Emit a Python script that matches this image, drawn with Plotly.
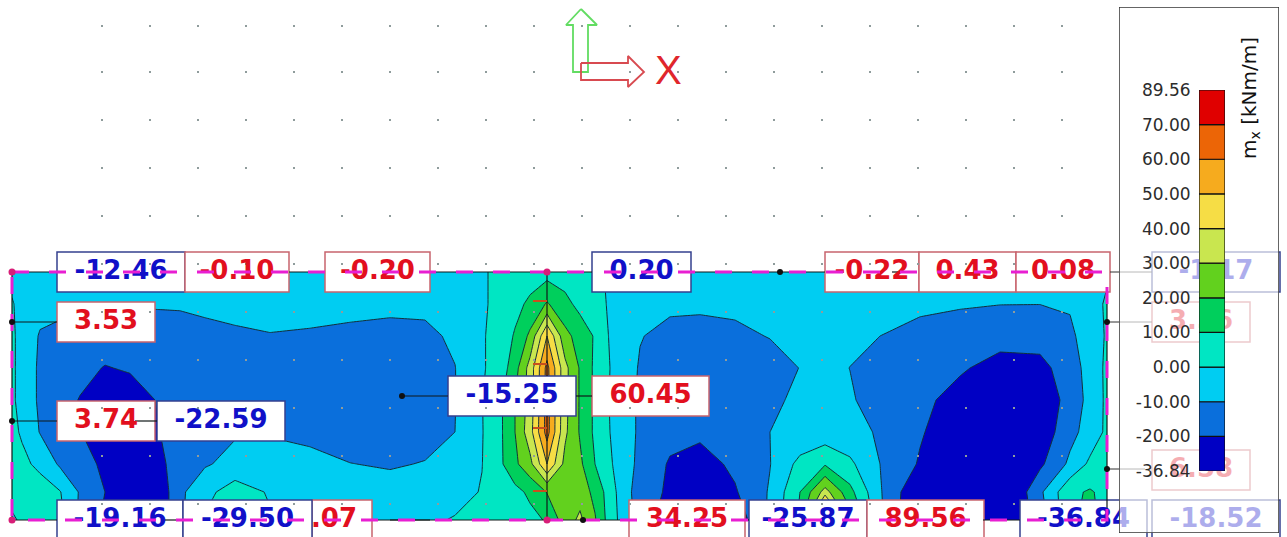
import plotly.graph_objects as go

# ---------- contour data (plate coordinates, moment values in kNm/m) ----------
grid_x = [12, 22, 40, 60, 80, 105, 130, 155, 180, 205, 235, 270, 310, 350, 390, 425, 455, 482, 500, 515, 530, 547,
          565, 580, 595, 610, 625, 640, 670, 700, 735, 770, 800, 825, 850, 880, 920, 960, 1000, 1040, 1070, 1090, 1107]
grid_y = [272, 304, 336, 368, 400, 432, 464, 492, 520]
row_272 = [-2, -5, -6, -6, -6, -6, -6, -6, -6, -6, -6, -6, -6, -6, -6, -6, -5, -1, 2, 4, 5, 6,
           5, 4, 1.5, -1, -3, -5, -6, -6, -6, -6, -6, -6, -6, -6, -6, -6, -6, -6, -6, -4, -1]
row_304 = [0.5, -2, -6, -8, -9, -9, -9, -9.2, -9.2, -8.5, -8, -7.5, -7.5, -8, -8.5, -8, -6.5, -1, 2, 7, 12, 21,
           13, 7, 3, -1, -4, -7, -8, -8, -8, -7.5, -7, -7, -7, -7, -8, -9, -9.8, -9.9, -9, -3, 1]
row_336 = [1, -2, -11, -12, -14, -15, -15, -14, -13, -12, -11, -10.3, -10.8, -11.5, -12, -12, -8.5, -1, 4, 11, 22, 50,
           23, 16, 9, -1, -5, -9.5, -13, -14, -12, -9.6, -8, -7, -8, -10, -13, -15, -17, -16, -12, -5, 1]
row_368 = [1, -2, -12, -15, -17, -20.5, -19, -16, -15, -14, -13, -12, -12, -13, -14, -13, -10.2, -1, 4, 16, 34, 63,
           33, 19, 8, 0, -5, -11, -16, -17, -16, -14, -9.8, -7.5, -10.1, -14, -17, -19, -23, -23, -15, -6, 2]
row_400 = [1, -2, -12, -16, -20.5, -27, -25, -20, -17, -15, -14, -14, -14, -15, -16, -15, -10.3, -0.3, 8, 20, 34, 64,
           33, 19, 8, -0.5, -5, -12, -17, -18, -17, -12, -8, -7, -9, -14, -18, -23, -28, -28, -16, -7, 2]
row_432 = [2, -1, -10.5, -15, -19.5, -28, -28, -21, -16, -12.5, -11, -11, -13, -15, -16, -14, -10, -0.5, 8, 20, 36, 64,
           32, 19, 8, 0, -5, -12, -17, -18, -17, -10, -8, -6, -7, -11, -19, -27, -30, -27, -13, -6, 2]
row_464 = [6, 2, -2, -11.5, -16, -22, -28, -24, -15, -11, -7, -5, -6.5, -9.8, -11, -9.5, -5, -0.2, 8, 18, 27, 50,
           27, 22, 10, 1, -5, -13, -21, -24, -18, -10.3, 3, 9, 2, -10, -21, -30, -33, -22, -8, 2, 4]
row_492 = [7, 6, 4, 0.5, -11, -20, -32, -30, -12, -3, 5, -1, -4, -5, -6, -6, -3, 0.5, 4, 7, 12, 20.5,
           24, 26, 17, 5, -7, -14, -22, -33, -21, -9, 10, 34, 13, -9, -30, -35, -36, -12, 8, 11, 7]
row_520 = [-3, 3, 5, 3, -12, -22, -36, -30, -12, 1, 8, 1, -3, -4, -4, -1.5, 0.6, 2, 4, 5, 7, 11,
           25, 32, 21, 5, -5, -14, -26, -34, -27, -8, 12, 89.56, 25, -8, -33, -36.84, -36, -15, 8, 13, 6]
grid_z = [row_272, row_304, row_336, row_368, row_400, row_432, row_464, row_492, row_520]

# ---------- legend ----------
band_colors = ["#0000c4", "#0a6fdc", "#00cdf2", "#00e6c3", "#00cf5c", "#62d11e",
               "#c9e64f", "#f6dd45", "#f6ab1e", "#ec6506", "#e00000"]
band_ticks = ["-36.84", "-20.00", "-10.00", "0.00", "10.00", "20.00", "30.00", "40.00", "50.00", "60.00", "70.00", "89.56"]
legend_title = "m<sub>x</sub> [kNm/m]"

# ---------- value labels ----------
RED, BLUE = "#e20f1e", "#1010c8"
RB, BB = "#c8646e", "#34408f"
label_text = ["3.56", "6.58", "-1.17", "-18.52", "-36.84",
              "-12.46", "-0.10", "-0.20", "0.20", "-0.22", "0.43", "0.08",
              "3.53", "3.74", "-22.59", "-15.25", "60.45",
              ".07", "-19.16", "-29.50", "34.25", "-25.87", "89.56"]
label_x0 = [1152, 1152, 1152, 1152, 1020, 57, 185, 325, 592, 825, 919, 1016, 57, 57, 157, 448, 592, 312, 57, 183, 629, 749, 867]
label_x1 = [1250, 1250, 1280, 1280, 1147, 185, 289, 430, 691, 919, 1016, 1110, 155, 155, 285, 576, 709, 372, 183, 312, 745, 867, 984]
label_yc = [322, 470, 272, 520, 520, 272, 272, 272, 272, 272, 272, 272, 322, 421, 421, 396, 396, 520, 520, 520, 520, 520, 520]
label_col = [RED, RED, BLUE, BLUE, BLUE, BLUE, RED, RED, BLUE, RED, RED, RED, RED, RED, BLUE, BLUE, RED, RED, BLUE, BLUE, RED, BLUE, RED]
label_edge = [RB, RB, BB, BB, BB, BB, RB, RB, BB, RB, RB, RB, RB, RB, BB, BB, RB, RB, BB, BB, RB, BB, RB]
label_h = 40
label_cx = [(a + b) / 2 for a, b in zip(label_x0, label_x1)]
label_cx[17] = 334

# ---------- drawing furniture ----------
dot_cols = [102 + 48 * i for i in range(21)]
dot_rows = [26, 72, 120, 168, 216, 264, 312, 360, 408, 456, 504]
dots_x = [x for _ in dot_rows for x in dot_cols]
dots_y = [y for y in dot_rows for _ in dot_cols]
arrow_y_x = [581, 597, 588, 588, 573, 573, 566, 581]
arrow_y_y = [9, 25, 25, 72, 72, 25, 25, 9]
arrow_x_x = [581, 628, 628, 644, 628, 628, 581, 581]
arrow_x_y = [63, 63, 56, 72, 87, 80, 80, 63]
black_x = [12, 57, None, 289, 325, None, 430, 592, None, 691, 825, None, 12, 12, None, 1107, 1107, None,
           12, 57, None, 372, 629, None, 745, 749, None, 983, 1020, None, 892, 910, None, 165, 183, None,
           547, 547, None, 547, 547, None, 135, 157, None, 12, 57, None, 12, 57, None,
           402, 448, None, 576, 592, None, 390, 430]
black_y = [272, 272, None, 272, 272, None, 272, 272, None, 272, 272, None, 272, 520, None, 292, 520, None,
           520, 520, None, 520, 520, None, 520, 520, None, 520, 520, None, 272, 272, None, 520, 520, None,
           272, 376, None, 416, 520, None, 421, 421, None, 322, 322, None, 421, 421, None,
           396, 396, None, 396, 396, None, 520, 520]
grey_x = [1110, 1152, None, 1107, 1152, None, 1107, 1145]
grey_y = [272, 272, None, 322, 322, None, 469, 469]
red_tick_x = [533, 547, None, 533, 547, None, 533, 547, None, 533, 547]
red_tick_y = [301, 301, None, 364, 364, None, 428, 428, None, 491, 491]
mag_x = [12, 1107, 1107, 12, 12]
mag_y = [272, 272, 520, 520, 272]
node_x = [12, 12, 402, 780, 583, 1107, 1107]
node_y = [322, 421, 396, 272, 520, 322, 469]
hinge_x = [12, 12, 547, 547]
hinge_y = [272, 520, 272, 520]

W, H = 1287, 537
fig = go.Figure()

fig.add_trace(go.Contour(
    x=grid_x, y=grid_y, z=grid_z, showscale=False, hoverinfo="skip",
    autocontour=False, contours=dict(start=-20, end=70, size=10, coloring="fill", showlines=True),
    line=dict(color="#12303a", width=1, smoothing=0),
    colorscale=[[i / 10, c] for i, c in enumerate(band_colors)],
))
fig.add_trace(go.Scatter(x=dots_x, y=dots_y, mode="markers", hoverinfo="skip",
                         marker=dict(size=2, color="#8f9c9c", symbol="square")))
fig.add_trace(go.Scatter(x=black_x, y=black_y, mode="lines", hoverinfo="skip", line=dict(color="#101818", width=1.2)))
fig.add_trace(go.Scatter(x=grey_x, y=grey_y, mode="lines", hoverinfo="skip", line=dict(color="#303030", width=1)))
fig.add_trace(go.Scatter(x=red_tick_x, y=red_tick_y, mode="lines", hoverinfo="skip", line=dict(color="#c8501e", width=2)))
fig.add_trace(go.Bar(
    orientation="h", y=label_yc, base=label_x0, x=[b - a for a, b in zip(label_x0, label_x1)],
    width=label_h, hoverinfo="skip",
    marker=dict(color="white", line=dict(color=label_edge, width=1.5)),
))
fig.add_trace(go.Scatter(x=label_cx, y=label_yc, mode="text", text=label_text, hoverinfo="skip",
                         textposition="middle center",
                         textfont=dict(family="DejaVu Sans", size=26, weight="bold", color=label_col)))
fig.add_trace(go.Scatter(x=mag_x, y=mag_y, mode="lines", hoverinfo="skip",
                         line=dict(color="#e81ed2", width=3, dash="17px,20px")))
fig.add_trace(go.Scatter(x=node_x, y=node_y, mode="markers", hoverinfo="skip", marker=dict(size=6, color="#101010")))
fig.add_trace(go.Scatter(x=hinge_x, y=hinge_y, mode="markers", hoverinfo="skip", marker=dict(size=7, color="#d81e78")))
fig.add_trace(go.Scatter(x=arrow_y_x, y=arrow_y_y, mode="lines", hoverinfo="skip", line=dict(color="#62dc62", width=1.8)))
fig.add_trace(go.Scatter(x=arrow_x_x, y=arrow_x_y, mode="lines", hoverinfo="skip", line=dict(color="#d84a50", width=1.8)))

# translucent legend panel sits above the plate labels
fig.add_trace(go.Bar(x=[0], y=[1], width=1, xaxis="x2", yaxis="y2", hoverinfo="skip", cliponaxis=False,
                     marker=dict(color="rgba(255,255,255,0.66)", line=dict(color="#333333", width=1.5))))
# stepped colour legend
fig.add_trace(go.Bar(x=[0] * len(band_colors), y=[1] * len(band_colors), base=list(range(len(band_colors))),
                     width=1, xaxis="x3", yaxis="y3", hoverinfo="skip", cliponaxis=False,
                     marker=dict(color=band_colors, line=dict(color="#101010", width=1.2))))

off = dict(visible=False, fixedrange=True)
fig.update_layout(
    width=W, height=H, margin=dict(l=0, r=0, t=0, b=0, pad=0, autoexpand=False), showlegend=False, barmode="overlay",
    paper_bgcolor="white", plot_bgcolor="rgba(0,0,0,0)",
    xaxis=dict(range=[0, W], domain=[0, 1], **off),
    yaxis=dict(range=[H, 0], domain=[0, 1], **off),
    xaxis2=dict(range=[-0.5, 0.5], domain=[1119 / W, 1279 / W], anchor="y2", **off),
    yaxis2=dict(range=[0, 1], domain=[(H - 533) / H, (H - 7) / H], anchor="x2", **off),
    xaxis3=dict(range=[-0.5, 0.5], domain=[1199 / W, 1225 / W], anchor="y3", **off),
    yaxis3=dict(range=[0, len(band_colors)], domain=[(H - 471) / H, (H - 90) / H], anchor="x3",
                tickmode="array", tickvals=list(range(len(band_ticks))), ticktext=band_ticks,
                showgrid=False, zeroline=False, showline=False, ticks="outside", ticklen=4,
                tickcolor="rgba(0,0,0,0)", fixedrange=True,
                tickfont=dict(family="DejaVu Sans", size=17, color="#2c2c2c")),
    annotations=[
        dict(text="X", x=668, y=70, xref="x", yref="y", showarrow=False,
             font=dict(family="Liberation Sans", size=40, color="#e0262c")),
        dict(text=legend_title, x=1250, y=98, xref="x", yref="y", showarrow=False, textangle=-90,
             font=dict(family="DejaVu Sans", size=20, color="#111111")),
    ],
)
fig.write_html("out.html", config={"displayModeBar": False},
               post_script="document.documentElement.style.margin='0';document.body.style.margin='0';document.body.style.overflow='hidden';")
